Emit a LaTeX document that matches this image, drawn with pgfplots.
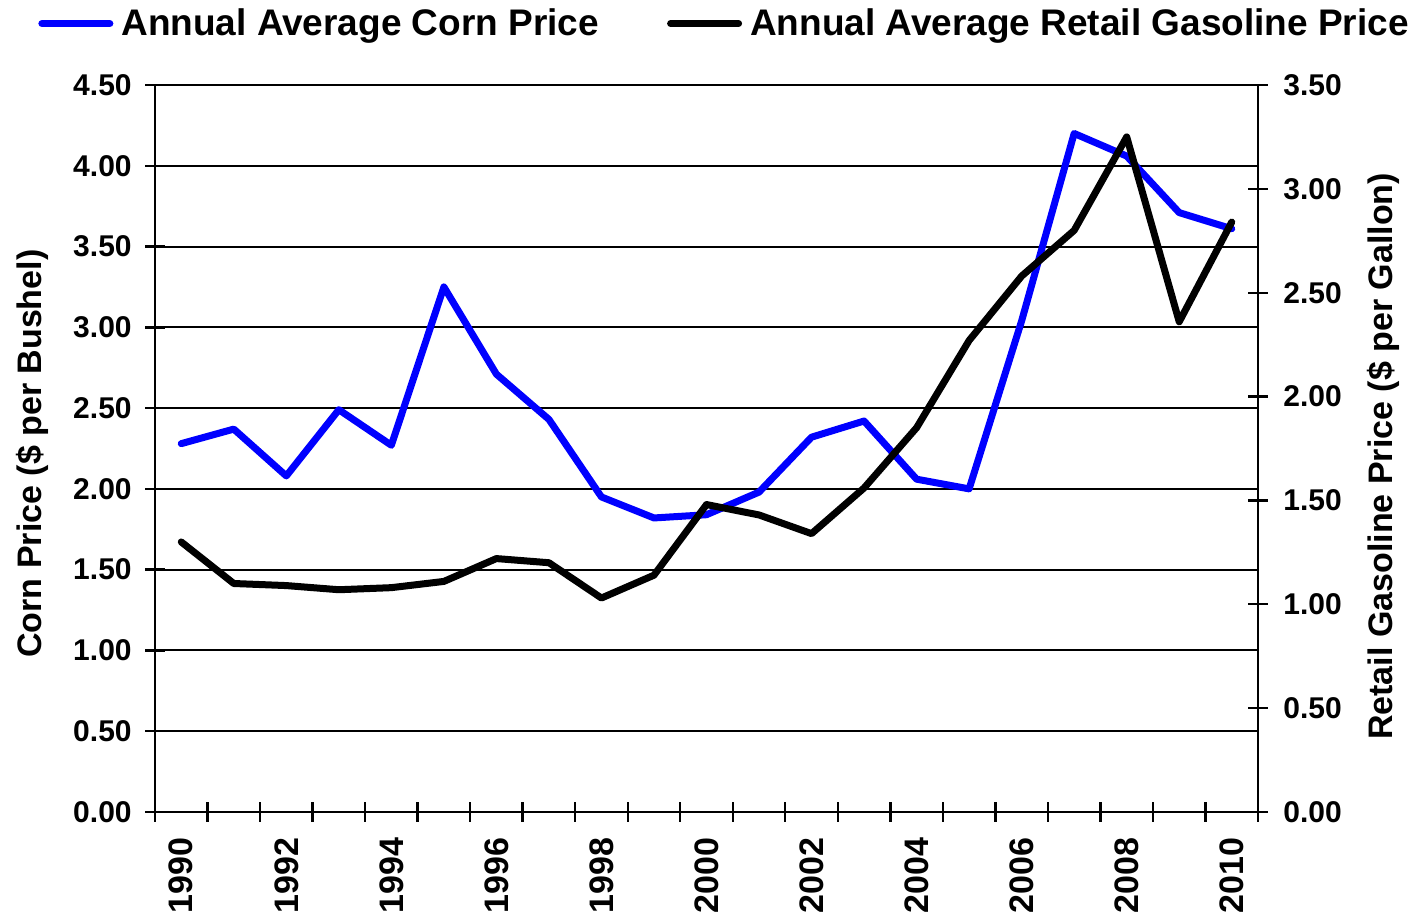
\documentclass[border=0pt]{standalone}
\usepackage{fontspec}
\setmainfont{Liberation Sans}
\usepackage{pgfplots}
\usepackage{pgfplotstable}
\pgfplotsset{compat=1.18}

% annual averages
\pgfplotstableread{
year corn
1990 2.28
1991 2.37
1992 2.08
1993 2.49
1994 2.27
1995 3.25
1996 2.71
1997 2.43
1998 1.95
1999 1.82
2000 1.84
2001 1.98
2002 2.32
2003 2.42
2004 2.06
2005 2.00
2006 3.04
2007 4.20
2008 4.06
2009 3.71
2010 3.61
}\corndata

\pgfplotstableread{
year gas
1990 1.30
1991 1.10
1992 1.09
1993 1.07
1994 1.08
1995 1.11
1996 1.22
1997 1.20
1998 1.03
1999 1.14
2000 1.48
2001 1.43
2002 1.34
2003 1.56
2004 1.85
2005 2.27
2006 2.58
2007 2.80
2008 3.25
2009 2.36
2010 2.84
}\gasdata

\pgfplotsset{
  priceaxis/.style={
    at={(0pt,0pt)}, anchor=south west,
    width=551.5pt, height=363.5pt, scale only axis,
    xmin=1989.5, xmax=2010.5,
    tick align=center, major tick length=10pt,
    every tick/.append style={black, line width=1.2pt},
    axis line style={line width=1.2pt},
    tick label style={font=\fontsize{15}{18}\selectfont\bfseries},
    label style={font=\fontsize{17}{20}\selectfont\bfseries},
    /pgf/number format/fixed,
    /pgf/number format/fixed zerofill,
    /pgf/number format/precision=2,
    /pgf/number format/assume math mode=true,
  },
}

\begin{document}
\begin{tikzpicture}
\path[use as bounding box] (-77.5pt,-50.5pt) rectangle (629.5pt,406pt);

\begin{axis}[priceaxis,
  axis x line*=bottom, axis y line*=left,
  ymin=0, ymax=4.5,
  ytick={0,0.5,1,1.5,2,2.5,3,3.5,4,4.5},
  ymajorgrids, grid style={black, line width=1pt},
  xtick={1989.5,1990.5,...,2010.5}, xticklabels={},
  extra x ticks={1990,1992,1994,1996,1998,2000,2002,2004,2006,2008,2010},
  extra x tick labels={1990,1992,1994,1996,1998,2000,2002,2004,2006,2008,2010},
  extra x tick style={major tick length=0pt,
    xticklabel style={rotate=90, anchor=east, inner sep=0pt, xshift=-12.5pt,
      font=\fontsize{17}{20}\selectfont\bfseries}},
  yticklabel style={anchor=east, inner sep=0pt, xshift=-6.5pt},
  ylabel={Corn Price (\$ per Bushel)},
  ylabel style={at={(axis description cs:-0.1115,0.493)}, anchor=center},
  legend columns=2,
  legend style={at={(axis description cs:-0.1061,1.0845)}, anchor=west,
    draw=none, fill=none, inner sep=0pt,
    font=\fontsize{18.5}{22}\selectfont\bfseries,
    nodes={inner sep=0pt},
    /tikz/every odd column/.append style={column sep=4pt},
    /tikz/every even column/.append style={column sep=34pt}},
  legend image code/.code={\draw[#1] (0pt,0pt) -- (34pt,0pt);},
]
\addplot[blue, line width=3.5pt, line cap=round, line join=round]
  table[x=year, y=corn] {\corndata};
\addlegendentry{Annual Average Corn Price}
\addlegendimage{black, line width=3.5pt, line cap=round}
\addlegendentry{Annual Average Retail Gasoline Price}
\end{axis}

\begin{axis}[priceaxis,
  axis x line=none, axis y line*=right,
  ymin=0, ymax=3.5,
  ytick={0,0.5,1,1.5,2,2.5,3,3.5},
  yticklabel style={anchor=west, inner sep=0pt, xshift=7.5pt},
  ylabel={Retail Gasoline Price (\$ per Gallon)},
  ylabel style={at={(axis description cs:1.1133,0.489)}, anchor=center},
]
\addplot[black, line width=3.5pt, line cap=round, line join=round]
  table[x=year, y=gas] {\gasdata};
\end{axis}
\end{tikzpicture}
\end{document}
